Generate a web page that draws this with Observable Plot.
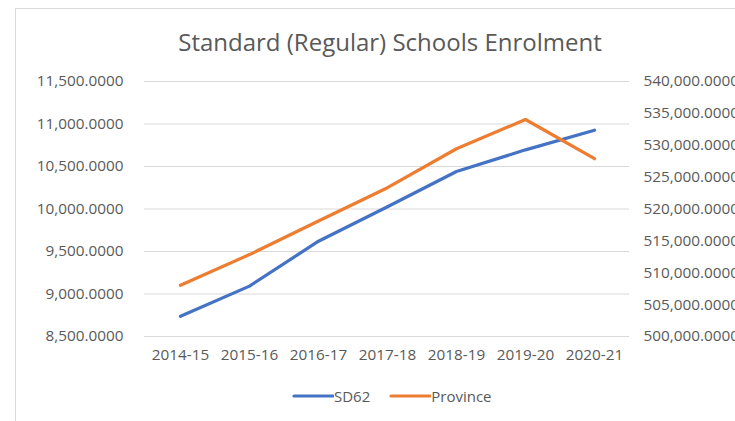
<!DOCTYPE html>
<html>
<head>
<meta charset="utf-8">
<script src="https://cdn.jsdelivr.net/npm/d3@7"></script>
<script src="https://cdn.jsdelivr.net/npm/@observablehq/plot@0.6"></script>
<style>
  html, body { margin: 0; padding: 0; background: #fff; }
  #wrap { position: relative; width: 735px; height: 421px; overflow: hidden; font-family: "Open Sans", sans-serif; color: #595959; }
  #frame { position: absolute; left: 15px; top: 8px; width: 800px; height: 500px; border-left: 1px solid #d9d9d9; border-top: 1px solid #d9d9d9; }
  #title { position: absolute; left: 15px; width: 750px; top: 25px; text-align: center; font-size: 24px; color: #595959; }
  #chart { position: absolute; left: 0; top: 60px; }
  #legend { position: absolute; top: 386px; left: 292px; display: flex; align-items: center; font-size: 15px; color: #595959; }
  .item { display: flex; align-items: center; margin-right: 19px; }
  .item svg { margin-right: 0px; }
</style>
</head>
<body>
<div id="wrap">
  <div id="frame"></div>
  <div id="title">Standard (Regular) Schools Enrolment</div>
  <div id="chart"></div>
  <div id="legend"></div>
</div>
<script>
const years = ["2014-15", "2015-16", "2016-17", "2017-18", "2018-19", "2019-20", "2020-21"];
const sd62 = [8738, 9093, 9621, 10027, 10441, 10696, 10927];
const province = [508040, 512850, 518110, 523340, 529450, 534040, 527890];
const leftTicks = [8500, 9000, 9500, 10000, 10500, 11000, 11500];
const rightTicks = [500000, 505000, 510000, 515000, 520000, 525000, 530000, 535000, 540000];
const seriesNames = ["SD62", "Province"];
const colors = ["#4472C4", "#ED7D31"];

const leftDomain = [8500, 11500];
const rightDomain = [500000, 540000];
const toLeft = d3.scaleLinear().domain(rightDomain).range(leftDomain);
const fmt = d3.format(",.4f");

const data = [];
years.forEach((y, i) => {
  data.push({year: y, series: "SD62", value: sd62[i]});
  data.push({year: y, series: "Province", value: toLeft(province[i]), raw: province[i]});
});

const chart = Plot.plot({
  width: 735,
  height: 320,
  marginTop: 21,
  marginBottom: 44,
  marginLeft: 144,
  marginRight: 106,
  style: {fontFamily: "Open Sans, sans-serif", fontSize: "15.3px", color: "#595959", background: "transparent"},
  x: {type: "point", domain: years, padding: 0.5},
  y: {domain: leftDomain},
  color: {domain: seriesNames, range: colors},
  marks: [
    Plot.gridY(leftTicks, {stroke: "#d9d9d9", strokeOpacity: 1, strokeWidth: 1}),
    Plot.axisY(leftTicks, {anchor: "left", tickSize: 0, tickPadding: 21, tickFormat: fmt, label: null, fill: "#595959"}),
    Plot.axisY(rightTicks.map(v => toLeft(v)), {anchor: "right", tickSize: 0, tickPadding: 14, tickFormat: d => fmt(Math.round(toLeft.invert(d))), label: null, fill: "#595959"}),
    Plot.axisX({tickSize: 0, tickPadding: 13, label: null, fill: "#595959"}),
    Plot.line(data, {x: "year", y: "value", z: "series", stroke: "series", strokeWidth: 3.2, strokeLinecap: "round", strokeLinejoin: "round"})
  ]
});
document.getElementById("chart").appendChild(chart);

const legend = document.getElementById("legend");
seriesNames.forEach((name, i) => {
  const item = document.createElement("div");
  item.className = "item";
  item.innerHTML = `<svg width="42" height="10"><line x1="2" y1="5" x2="41" y2="5" stroke="${colors[i]}" stroke-width="3.2" stroke-linecap="round"/></svg><span>${name}</span>`;
  legend.appendChild(item);
});
</script>
</body>
</html>
